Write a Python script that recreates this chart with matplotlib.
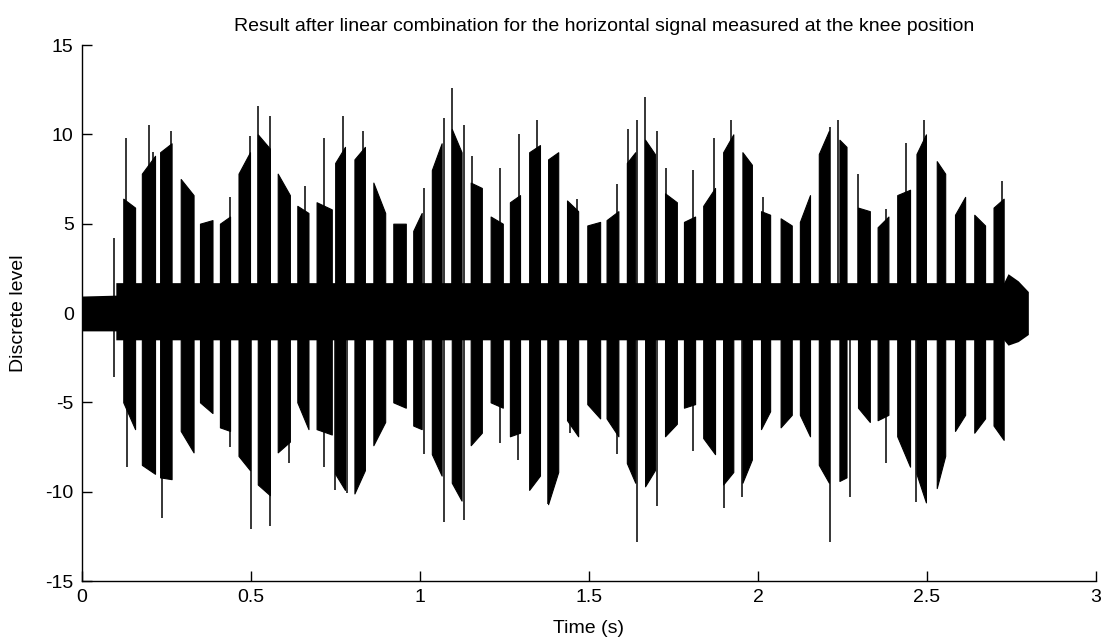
import matplotlib
matplotlib.use("Agg")
import matplotlib.pyplot as plt
import numpy as np

# Burst envelopes of the knee signal: start/end time (s), upper and lower level at start/end
burst_t0 = [0.122, 0.177, 0.231, 0.292, 0.349, 0.408, 0.463, 0.520, 0.579, 0.637,
            0.694, 0.749, 0.806, 0.862, 0.921, 0.980, 1.035, 1.094, 1.150, 1.209,
            1.266, 1.323, 1.379, 1.435, 1.495, 1.552, 1.612, 1.666, 1.725, 1.781,
            1.838, 1.897, 1.954, 2.009, 2.067, 2.124, 2.180, 2.241, 2.296, 2.354,
            2.412, 2.469, 2.529, 2.583, 2.640, 2.697]
burst_t1 = [0.157, 0.216, 0.265, 0.330, 0.386, 0.438, 0.497, 0.556, 0.615, 0.670,
            0.739, 0.778, 0.837, 0.897, 0.958, 1.005, 1.064, 1.123, 1.183, 1.245,
            1.296, 1.355, 1.409, 1.468, 1.533, 1.587, 1.637, 1.695, 1.760, 1.814,
            1.873, 1.927, 1.982, 2.036, 2.100, 2.154, 2.210, 2.262, 2.331, 2.386,
            2.450, 2.497, 2.554, 2.613, 2.672, 2.727]
top_start = [6.4, 7.8, 9.0, 7.5, 5.0, 5.0, 7.8, 10.0, 7.8, 6.0,
             6.2, 8.4, 8.6, 7.3, 5.0, 4.6, 8.0, 10.3, 7.3, 5.4,
             6.2, 9.0, 8.6, 6.3, 4.9, 5.2, 8.4, 9.7, 6.7, 5.1,
             6.0, 9.0, 9.0, 5.7, 5.3, 5.1, 8.9, 9.7, 5.9, 4.8,
             6.6, 8.9, 8.5, 5.5, 5.5, 5.9]
top_end = [5.9, 8.8, 9.5, 6.6, 5.2, 5.4, 9.0, 9.2, 6.6, 5.6,
           5.8, 9.3, 9.3, 5.6, 5.0, 5.6, 9.5, 9.0, 7.0, 5.0,
           6.6, 9.4, 9.0, 5.7, 5.1, 5.7, 9.0, 8.9, 6.2, 5.4,
           7.0, 10.0, 8.3, 5.5, 4.9, 6.6, 10.2, 9.3, 5.7, 5.4,
           6.9, 10.0, 7.8, 6.5, 4.9, 6.4]
bot_start = [-5.0, -8.5, -9.2, -6.6, -5.0, -6.4, -8.0, -9.6, -7.8, -5.0,
             -6.5, -9.0, -10.1, -7.4, -5.0, -6.3, -7.9, -9.5, -7.4, -5.0,
             -6.9, -9.9, -10.7, -6.0, -5.1, -5.9, -8.4, -9.7, -6.9, -5.3,
             -7.0, -9.6, -9.5, -6.5, -6.4, -5.7, -8.5, -9.4, -5.3, -6.0,
             -6.9, -9.0, -9.8, -6.6, -6.7, -6.3]
bot_end = [-6.5, -9.0, -9.3, -7.8, -5.6, -6.6, -8.8, -10.2, -7.2, -6.5,
           -6.8, -9.9, -8.8, -6.1, -5.3, -6.5, -9.1, -10.5, -6.7, -5.3,
           -6.7, -9.1, -8.9, -6.9, -5.9, -6.9, -9.5, -8.8, -6.2, -5.1,
           -7.9, -8.9, -8.2, -5.5, -5.7, -6.9, -9.5, -9.2, -6.1, -5.7,
           -8.6, -10.6, -8.0, -5.7, -5.9, -7.1]

# Isolated sharp peaks: (time, level)
spike_up_t = [0.096, 0.130, 0.199, 0.210, 0.262, 0.439, 0.497, 0.522, 0.556, 0.660,
              0.716, 0.773, 0.832, 1.013, 1.071, 1.096, 1.130, 1.153, 1.237, 1.294,
              1.347, 1.464, 1.582, 1.614, 1.643, 1.667, 1.702, 1.727, 1.809, 1.870,
              1.919, 2.014, 2.213, 2.238, 2.297, 2.379, 2.438, 2.491, 2.722]
spike_up_v = [4.2, 9.8, 10.5, 9.0, 10.2, 6.5, 9.9, 11.6, 11.0, 7.1,
              9.8, 11.0, 10.2, 7.0, 10.9, 12.6, 10.5, 8.8, 8.1, 10.0,
              10.8, 6.4, 7.2, 10.3, 10.8, 12.1, 10.2, 8.1, 8.0, 9.8,
              10.8, 6.5, 10.4, 10.8, 7.8, 5.8, 9.5, 10.8, 7.4]
spike_dn_t = [0.096, 0.134, 0.237, 0.439, 0.499, 0.556, 0.613, 0.716, 0.749, 0.783,
              1.013, 1.071, 1.130, 1.237, 1.291, 1.379, 1.444, 1.582, 1.643, 1.702,
              1.807, 1.899, 1.954, 2.213, 2.272, 2.379, 2.469]
spike_dn_v = [-3.6, -8.6, -11.5, -7.5, -12.1, -11.9, -8.4, -8.6, -9.9, -10.1,
              -7.9, -11.7, -11.6, -7.3, -8.2, -10.7, -6.7, -7.9, -12.8, -10.8,
              -7.7, -10.9, -10.3, -12.8, -10.3, -8.4, -10.6]

# Low-level background band of the signal
band_t = [0.0, 0.10, 0.10, 2.727, 2.74, 2.77, 2.80]
band_top = [0.95, 1.0, 1.7, 1.7, 2.2, 1.8, 1.2]
band_bot = [-1.0, -1.0, -1.5, -1.5, -1.8, -1.6, -1.2]

title = "Result after linear combination for the horizontal signal measured at the knee position"
x_ticks = [0, 0.5, 1, 1.5, 2, 2.5, 3]
x_tick_labels = ["0", "0.5", "1", "1.5", "2", "2.5", "3"]
y_ticks = [-15, -10, -5, 0, 5, 10, 15]
y_tick_labels = ["-15", "-10", "-5", "0", "5", "10", "15"]

plt.rcParams["font.family"] = ["Liberation Sans", "DejaVu Sans"]

fig = plt.figure(figsize=(11.07, 6.43), dpi=100)
ax = fig.add_axes([0.0741, 0.0964, 0.9159, 0.8336])

ink = "black"
ax.fill_between(band_t, band_bot, band_top, color=ink, lw=0)
for t0, t1, a0, a1, b0, b1 in zip(burst_t0, burst_t1, top_start, top_end, bot_start, bot_end):
    ax.fill_between([t0, t1], [b0, b1], [a0, a1], color=ink, lw=0.8, edgecolor=ink)
ax.vlines(spike_up_t, 0, spike_up_v, color=ink, lw=1.1)
ax.vlines(spike_dn_t, spike_dn_v, 0, color=ink, lw=1.1)

ax.set_xlim(0, 3)
ax.set_ylim(-15, 15)
ax.set_xticks(x_ticks)
ax.set_xticklabels(x_tick_labels)
ax.set_yticks(y_ticks)
ax.set_yticklabels(y_tick_labels)
ax.tick_params(direction="in", length=7, width=1, labelsize=14, colors="black")
ax.tick_params(axis="x", pad=6)
ax.tick_params(axis="y", pad=6)
for side in ("top", "right"):
    ax.spines[side].set_visible(False)
for side in ("left", "bottom"):
    ax.spines[side].set_linewidth(1)

ax.set_title(title, fontsize=14, pad=10, x=0.515)
ax.set_xlabel("Time (s)", fontsize=14, labelpad=10)
ax.set_ylabel("Discrete level", fontsize=14, labelpad=13)

fig.savefig("out.png", dpi=100)
